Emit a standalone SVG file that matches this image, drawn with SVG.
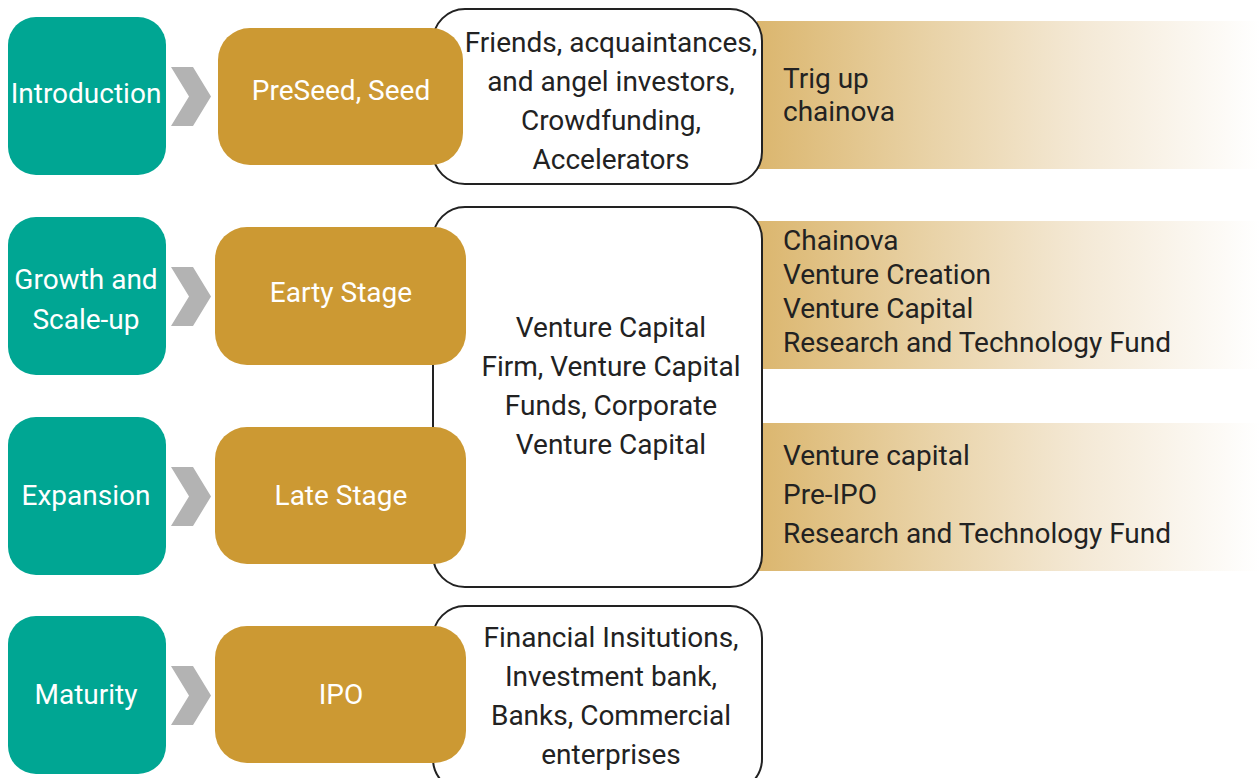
<svg xmlns="http://www.w3.org/2000/svg" width="1260" height="778" viewBox="0 0 1260 778">
  <defs>
    <linearGradient id="fade" x1="0" y1="0" x2="1" y2="0">
      <stop offset="0" stop-color="#DBB66E"/>
      <stop offset="0.35" stop-color="#E9D3A8"/>
      <stop offset="0.65" stop-color="#F4E9D6"/>
      <stop offset="1" stop-color="#FFFFFF"/>
    </linearGradient>
    <polygon id="chev" points="171,0 193,0 211,29.5 193,59 171,59 189,29.5"/>
  </defs>
  <style>
    text { font-family: Roboto, "Liberation Sans", sans-serif; font-size: 28px; }
    .phase rect { fill: #00A693; }
    .stage rect { fill: #CC9933; }
    .light { fill: #FFFFFF; text-anchor: middle; }
    .src rect { fill: #FFFFFF; stroke: #222222; stroke-width: 2; }
    .dark { fill: #222222; }
    .mid { text-anchor: middle; }
    .bar { fill: url(#fade); }
    .chevron { fill: #B3B3B3; }
  </style>

  <rect width="1260" height="778" fill="#FFFFFF"/>

  <!-- gradient bands listing example investors -->
  <g id="band-1">
    <rect class="bar" x="757" y="21" width="503" height="148"/>
    <text class="dark" x="783" y="88">Trig up</text>
    <text class="dark" x="783" y="121">chainova</text>
  </g>
  <g id="band-2">
    <rect class="bar" x="757" y="221" width="503" height="148"/>
    <text class="dark" x="783" y="250">Chainova</text>
    <text class="dark" x="783" y="284">Venture Creation</text>
    <text class="dark" x="783" y="318">Venture Capital</text>
    <text class="dark" x="783" y="352">Research and Technology Fund</text>
  </g>
  <g id="band-3">
    <rect class="bar" x="757" y="423" width="503" height="148"/>
    <text class="dark" x="783" y="465">Venture capital</text>
    <text class="dark" x="783" y="504">Pre-IPO</text>
    <text class="dark" x="783" y="543">Research and Technology Fund</text>
  </g>

  <!-- funding source boxes -->
  <g id="source-seed" class="src">
    <rect x="433" y="9" width="329" height="175" rx="32"/>
    <text class="dark mid" x="611" y="52">Friends, acquaintances,</text>
    <text class="dark mid" x="611" y="91">and angel investors,</text>
    <text class="dark mid" x="611" y="130">Crowdfunding,</text>
    <text class="dark mid" x="611" y="169">Accelerators</text>
  </g>
  <g id="source-vc" class="src">
    <rect x="433" y="207" width="329" height="380" rx="32"/>
    <text class="dark mid" x="611" y="337">Venture Capital</text>
    <text class="dark mid" x="611" y="376">Firm, Venture Capital</text>
    <text class="dark mid" x="611" y="415">Funds, Corporate</text>
    <text class="dark mid" x="611" y="454">Venture Capital</text>
  </g>
  <g id="source-ipo" class="src">
    <rect x="433" y="606" width="329" height="185" rx="32"/>
    <text class="dark mid" x="611" y="647">Financial Insitutions,</text>
    <text class="dark mid" x="611" y="686">Investment bank,</text>
    <text class="dark mid" x="611" y="725">Banks, Commercial</text>
    <text class="dark mid" x="611" y="764">enterprises</text>
  </g>

  <!-- lifecycle phases -->
  <g id="phase-introduction" class="phase">
    <rect x="8" y="17" width="158" height="158" rx="28"/>
    <text class="light" x="86" y="103">Introduction</text>
  </g>
  <g id="phase-growth" class="phase">
    <rect x="8" y="217" width="158" height="158" rx="28"/>
    <text class="light" x="86" y="289">Growth and</text>
    <text class="light" x="86" y="329">Scale-up</text>
  </g>
  <g id="phase-expansion" class="phase">
    <rect x="8" y="417" width="158" height="158" rx="28"/>
    <text class="light" x="86" y="505">Expansion</text>
  </g>
  <g id="phase-maturity" class="phase">
    <rect x="8" y="616" width="158" height="158" rx="28"/>
    <text class="light" x="86" y="704">Maturity</text>
  </g>

  <!-- chevron connectors -->
  <g id="connectors" class="chevron">
    <use href="#chev" y="67"/>
    <use href="#chev" y="267"/>
    <use href="#chev" y="467"/>
    <use href="#chev" y="666"/>
  </g>

  <!-- funding stages -->
  <g id="stage-seed" class="stage">
    <rect x="218" y="28" width="245" height="137" rx="32"/>
    <text class="light" x="341" y="100">PreSeed, Seed</text>
  </g>
  <g id="stage-early" class="stage">
    <rect x="215" y="227" width="251" height="138" rx="32"/>
    <text class="light" x="341" y="302">Earty Stage</text>
  </g>
  <g id="stage-late" class="stage">
    <rect x="215" y="427" width="251" height="137" rx="32"/>
    <text class="light" x="341" y="505">Late Stage</text>
  </g>
  <g id="stage-ipo" class="stage">
    <rect x="215" y="626" width="251" height="137" rx="32"/>
    <text class="light" x="341" y="704">IPO</text>
  </g>
</svg>
